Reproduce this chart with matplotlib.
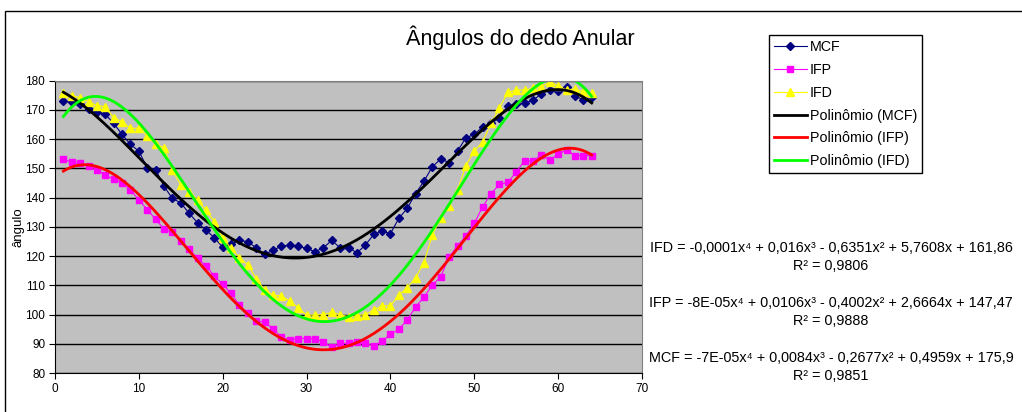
import numpy as np
import matplotlib
matplotlib.use("Agg")
import matplotlib.pyplot as plt
from matplotlib.patches import Rectangle

plt.rcParams['font.family'] = ['Liberation Sans', 'DejaVu Sans']

# data (frame number 1..64)
frames = np.arange(1, 65)

mcf = [173.0, 172.6, 171.9, 170.2, 169.3, 168.5, 165.4, 161.6, 158.2, 155.9,
       150.2, 149.6, 143.9, 139.7, 138.2, 134.6, 131.4, 128.9, 126.3, 123.0,
       124.0, 125.4, 124.9, 122.8, 120.6, 122.0, 123.4, 123.7, 123.4, 122.6,
       121.5, 122.8, 125.4, 122.8, 122.9, 121.1, 123.7, 127.4, 128.5, 127.7,
       132.9, 136.3, 141.4, 145.6, 150.6, 153.2, 152.0, 155.9, 160.5, 161.6,
       164.2, 165.4, 167.3, 171.5, 171.9, 172.2, 173.4, 175.4, 176.8, 176.6,
       177.7, 174.9, 173.4, 174.5]

ifp = [153.1, 152.1, 151.7, 150.9, 149.6, 147.7, 146.2, 145.1, 142.6, 139.2,
       135.9, 132.6, 129.2, 128.1, 125.1, 122.4, 119.2, 116.7, 113.1, 110.3,
       107.2, 103.2, 100.4, 97.7, 97.5, 95.0, 92.3, 91.2, 91.8, 91.8,
       91.8, 90.6, 88.9, 90.1, 90.1, 90.6, 90.1, 89.3, 90.9, 93.2,
       95.0, 98.1, 102.6, 106.0, 110.0, 113.0, 119.7, 123.5, 126.9, 131.2,
       136.9, 141.4, 144.5, 145.2, 148.8, 152.6, 152.5, 154.6, 152.8, 154.9,
       156.3, 154.4, 154.4, 154.4]

ifd = [175.7, 174.9, 174.2, 172.8, 171.5, 171.1, 167.3, 166.0, 163.7, 163.7,
       161.2, 158.2, 157.1, 149.4, 144.3, 142.0, 139.2, 135.7, 131.8, 126.3,
       122.6, 119.5, 117.0, 112.3, 108.3, 106.6, 106.4, 104.6, 102.3, 99.8,
       99.8, 100.0, 100.7, 100.0, 99.2, 99.6, 100.0, 101.5, 103.0, 103.0,
       106.6, 109.1, 112.6, 117.8, 127.2, 133.0, 137.2, 142.6, 150.9, 155.9,
       159.1, 165.4, 170.7, 176.0, 176.8, 176.8, 177.4, 178.0, 179.5, 178.3,
       176.8, 177.2, 176.2, 175.7]

equations = [
    "IFD = -0,0001x\u2074 + 0,016x\u00b3 - 0,6351x\u00b2 + 5,7608x + 161,86\nR\u00b2 = 0,9806",
    "IFP = -8E-05x\u2074 + 0,0106x\u00b3 - 0,4002x\u00b2 + 2,6664x + 147,47\nR\u00b2 = 0,9888",
    "MCF = -7E-05x\u2074 + 0,0084x\u00b3 - 0,2677x\u00b2 + 0,4959x + 175,9\nR\u00b2 = 0,9851",
]

W, H = 1022, 412
fig = plt.figure(figsize=(W / 100, H / 100), dpi=100)
ax = fig.add_axes([55 / W, 1 - 373 / H, (642 - 55) / W, (373 - 80.7) / H])

# outer chart border
fig.patches.append(Rectangle((5 / W, -0.1), 1.2, 1 - 11 / H + 0.1,
                             transform=fig.transFigure, fill=False,
                             edgecolor='black', linewidth=1.0))

ax.set_facecolor('#c0c0c0')
ax.set_xlim(0, 70)
ax.set_ylim(80, 180)
ax.set_xticks(range(0, 71, 10))
ax.set_yticks(range(80, 181, 10))
ax.yaxis.grid(True, color='black', linewidth=1.0)
ax.set_axisbelow(True)
ax.tick_params(labelsize=8.5, length=4, width=0.8, direction='out', pad=3)
for s in ['top', 'right']:
    ax.spines[s].set_color('#808080')
ax.spines['left'].set_linewidth(0.8)
ax.spines['bottom'].set_linewidth(0.8)
ax.set_ylabel("ângulo", fontsize=9.5, labelpad=1)

# series
ax.plot(frames, mcf, color='#000080', linewidth=0.8, marker='D', markersize=4.5, label='MCF')
ax.plot(frames, ifp, color='#ff00ff', linewidth=0.8, marker='s', markersize=5, label='IFP')
ax.plot(frames, ifd, color='#ffff00', linewidth=0.8, marker='^', markersize=6, label='IFD')

# 4th order polynomial trendlines
xs = np.linspace(1, 64, 300)
for vals, col, name in [(mcf, 'black', 'Polinômio (MCF)'),
                        (ifp, 'red', 'Polinômio (IFP)'),
                        (ifd, '#00ff00', 'Polinômio (IFD)')]:
    coef = np.polyfit(frames, vals, 4)
    ax.plot(xs, np.polyval(coef, xs), color=col, linewidth=2.0, label=name)

fig.text(520 / W, 1 - 38 / H, "Ângulos do dedo Anular", fontsize=15.5,
         ha='center', va='center')

leg = fig.legend(loc='upper left', bbox_to_anchor=(769 / W, 1 - 35 / H),
                 fontsize=10.3, frameon=True, fancybox=False, framealpha=1,
                 edgecolor='black', handlelength=2.3, handletextpad=0.2,
                 labelspacing=0.62, borderpad=0.35, borderaxespad=0)
leg.get_frame().set_linewidth(1.0)

for txt, yc in zip(equations, [257, 312, 367]):
    fig.text(831 / W, 1 - yc / H, txt, fontsize=10.4, ha='center', va='center',
             linespacing=1.35)

fig.savefig("out.png", dpi=100)
